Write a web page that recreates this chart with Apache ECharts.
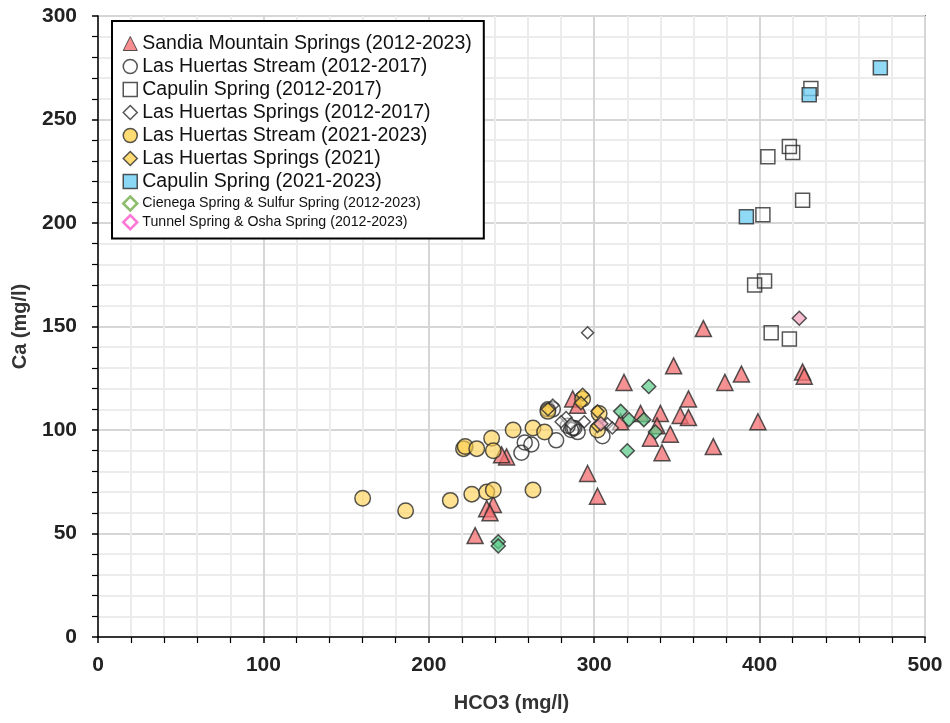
<!DOCTYPE html>
<html><head><meta charset="utf-8">
<script src="https://cdn.jsdelivr.net/npm/echarts@6/dist/echarts.min.js"></script>
<style>html,body{margin:0;padding:0;background:#fff}#c{width:950px;height:723px}</style>
</head><body><div id="c"></div>
<script>
const seriesNames = [
  'Sandia Mountain Springs (2012-2023)',
  'Las Huertas Stream (2012-2017)',
  'Capulin Spring (2012-2017)',
  'Las Huertas Springs (2012-2017)',
  'Las Huertas Stream (2021-2023)',
  'Las Huertas Springs (2021)',
  'Capulin Spring (2021-2023)',
  'Cienega Spring & Sulfur Spring (2012-2023)',
  'Tunnel Spring & Osha Spring (2012-2023)'
];
// [HCO3, Ca]
const sandiaSprings = [[366,149],[389,127],[379,123],[426,128],[427,126],[399,104],[372,92],[348,131],[318,123],[357,115],[328,108],[340,108],[352,107],[357,106],[316,104],[338,102],[334,96],[346,98],[341,89],[296,79],[302,68],[287,115],[290,112],[247,87],[244,88],[239,64],[235,62],[237,60],[228,49]];
const lhStream1217 = [[258,94],[262,93],[256,89],[277,95],[284,102],[287,101],[290,99],[288,101],[305,97],[272,110],[275,110],[286,100]];
const capulin1217 = [[431,265],[405,232],[418,237],[420,234],[426,211],[402,204],[397,170],[403,172],[407,147],[418,144]];
const lhSprings1217 = [[296,147],[275,112],[283,106],[294,104],[308,103],[311,101],[286,103],[280,104]];
const lhStream2123 = [[160,67],[186,61],[213,66],[226,69],[235,70],[239,71],[263,71],[221,91],[222,92],[229,91],[238,96],[239,90],[251,100],[263,101],[270,99],[272,109],[293,115],[303,108],[302,100]];
const lhSprings2021 = [[272,110],[293,117],[292,113],[302,109],[302,102]];
const capulin2123 = [[473,275],[430,262],[392,203]];
const cienegaSulfur = [[333,121],[316,109],[321,105],[330,105],[337,99],[320,90],[242,46],[242,44]];
const tunnelOsha = [[424,154],[304,103]];
const xTicks = [0,100,200,300,400,500];
const yTicks = [0,50,100,150,200,250,300];

const F = 'Liberation Sans, Arial, sans-serif';
const edge = '#2b2b2b';
function mk(name, data, symbol, size, fill, z) {
  return {type:'scatter', name, data, symbol, symbolSize:size, z,
    itemStyle:{color:fill, borderColor:edge, borderWidth:1.5}, emphasis:{disabled:true}};
}
const series = [
  mk(seriesNames[0], sandiaSprings, 'triangle', 16, 'rgba(244,112,115,0.95)', 2),
  mk(seriesNames[1], lhStream1217, 'circle', 15, 'rgba(255,255,255,0)', 3),
  mk(seriesNames[2], capulin1217, 'rect', 14, 'rgba(255,255,255,0)', 4),
  mk(seriesNames[3], lhSprings1217, 'diamond', 12, 'rgba(255,255,255,0.6)', 5),
  mk(seriesNames[4], lhStream2123, 'circle', 15.5, 'rgba(255,209,80,0.78)', 6),
  mk(seriesNames[5], lhSprings2021, 'diamond', 13, 'rgba(255,205,70,0.85)', 7),
  mk(seriesNames[6], capulin2123, 'rect', 14, 'rgba(110,206,244,0.95)', 8),
  mk(seriesNames[7], cienegaSulfur, 'diamond', 14, 'rgba(95,205,140,0.9)', 9),
  mk(seriesNames[8], tunnelOsha, 'diamond', 14, 'rgba(245,168,195,0.95)', 10)
];
const big = {fontSize:19.5, lineHeight:23, fontFamily:F, color:'#111'};
const legendData = [
  {name:seriesNames[0], icon:'triangle', itemStyle:{color:'#f47073', borderColor:edge, borderWidth:1}, textStyle:big},
  {name:seriesNames[1], icon:'circle', itemStyle:{color:'#fff', borderColor:edge, borderWidth:1.5}, textStyle:big},
  {name:seriesNames[2], icon:'rect', itemStyle:{color:'#fff', borderColor:edge, borderWidth:1.5}, textStyle:big},
  {name:seriesNames[3], icon:'diamond', itemStyle:{color:'#fff', borderColor:edge, borderWidth:1.5}, textStyle:big},
  {name:seriesNames[4], icon:'circle', itemStyle:{color:'#ffd350', borderColor:edge, borderWidth:1.5}, textStyle:big},
  {name:seriesNames[5], icon:'diamond', itemStyle:{color:'#ffd350', borderColor:edge, borderWidth:1.5}, textStyle:big},
  {name:seriesNames[6], icon:'rect', itemStyle:{color:'#6ecef4', borderColor:edge, borderWidth:1.5}, textStyle:big},
  {name:seriesNames[7], icon:'diamond', itemStyle:{color:'#fff', borderColor:'#70ad47', borderWidth:2.5}, textStyle:{fontSize:14.2, lineHeight:15, padding:[6,0,0,0], fontFamily:F, color:'#111'}},
  {name:seriesNames[8], icon:'diamond', itemStyle:{color:'#fff', borderColor:'#ff55cc', borderWidth:2.5}, textStyle:{fontSize:14.2, lineHeight:15, fontFamily:F, color:'#111'}}
];
const chart = echarts.init(document.getElementById('c'), null, {renderer:'canvas'});
chart.setOption({
  animation:false,
  backgroundColor:'#fff',
  grid:{left:98, right:25, top:16, bottom:86, show:true, borderColor:'#000', borderWidth:1.5, backgroundColor:'transparent'},
  legend:{orient:'vertical', left:112, top:21, padding:[11,12,8,10], borderColor:'#000', borderWidth:2,
    backgroundColor:'#fff', itemWidth:14, itemHeight:14, itemGap:0, selectedMode:false, data:legendData, z:20},
  xAxis:{type:'value', min:xTicks[0], max:xTicks[xTicks.length-1], interval:100,
    name:'HCO3 (mg/l)', nameLocation:'middle', nameGap:56,
    nameTextStyle:{fontFamily:F, fontWeight:'bold', fontSize:20, color:'#333'},
    axisLine:{show:true, onZero:false, lineStyle:{color:'#000', width:1.5}},
    axisTick:{show:true, length:6, lineStyle:{color:'#000', width:1.5}},
    minorTick:{show:true, splitNumber:5, length:6, lineStyle:{color:'#000', width:1.2}},
    axisLabel:{fontFamily:F, fontWeight:'bold', fontSize:21, color:'#222', margin:18},
    splitLine:{show:true, lineStyle:{color:'#d6d6d6', width:2}},
    minorSplitLine:{show:true, lineStyle:{color:'#ececec', width:2}}
  },
  yAxis:{type:'value', min:yTicks[0], max:yTicks[yTicks.length-1], interval:50,
    name:'Ca (mg/l)', nameLocation:'middle', nameGap:68, nameRotate:90, nameMoveOverlap:false,
    nameTextStyle:{fontFamily:F, fontWeight:'bold', fontSize:20, color:'#333'},
    axisLine:{show:true, onZero:false, lineStyle:{color:'#000', width:1.5}},
    axisTick:{show:true, length:6, lineStyle:{color:'#000', width:1.5}},
    minorTick:{show:true, splitNumber:5, length:6, lineStyle:{color:'#000', width:1.2}},
    axisLabel:{fontFamily:F, fontWeight:'bold', fontSize:21, color:'#222', margin:21},
    splitLine:{show:true, lineStyle:{color:'#d6d6d6', width:2}},
    minorSplitLine:{show:true, lineStyle:{color:'#ececec', width:2}}
  },
  series
});
</script></body></html>
